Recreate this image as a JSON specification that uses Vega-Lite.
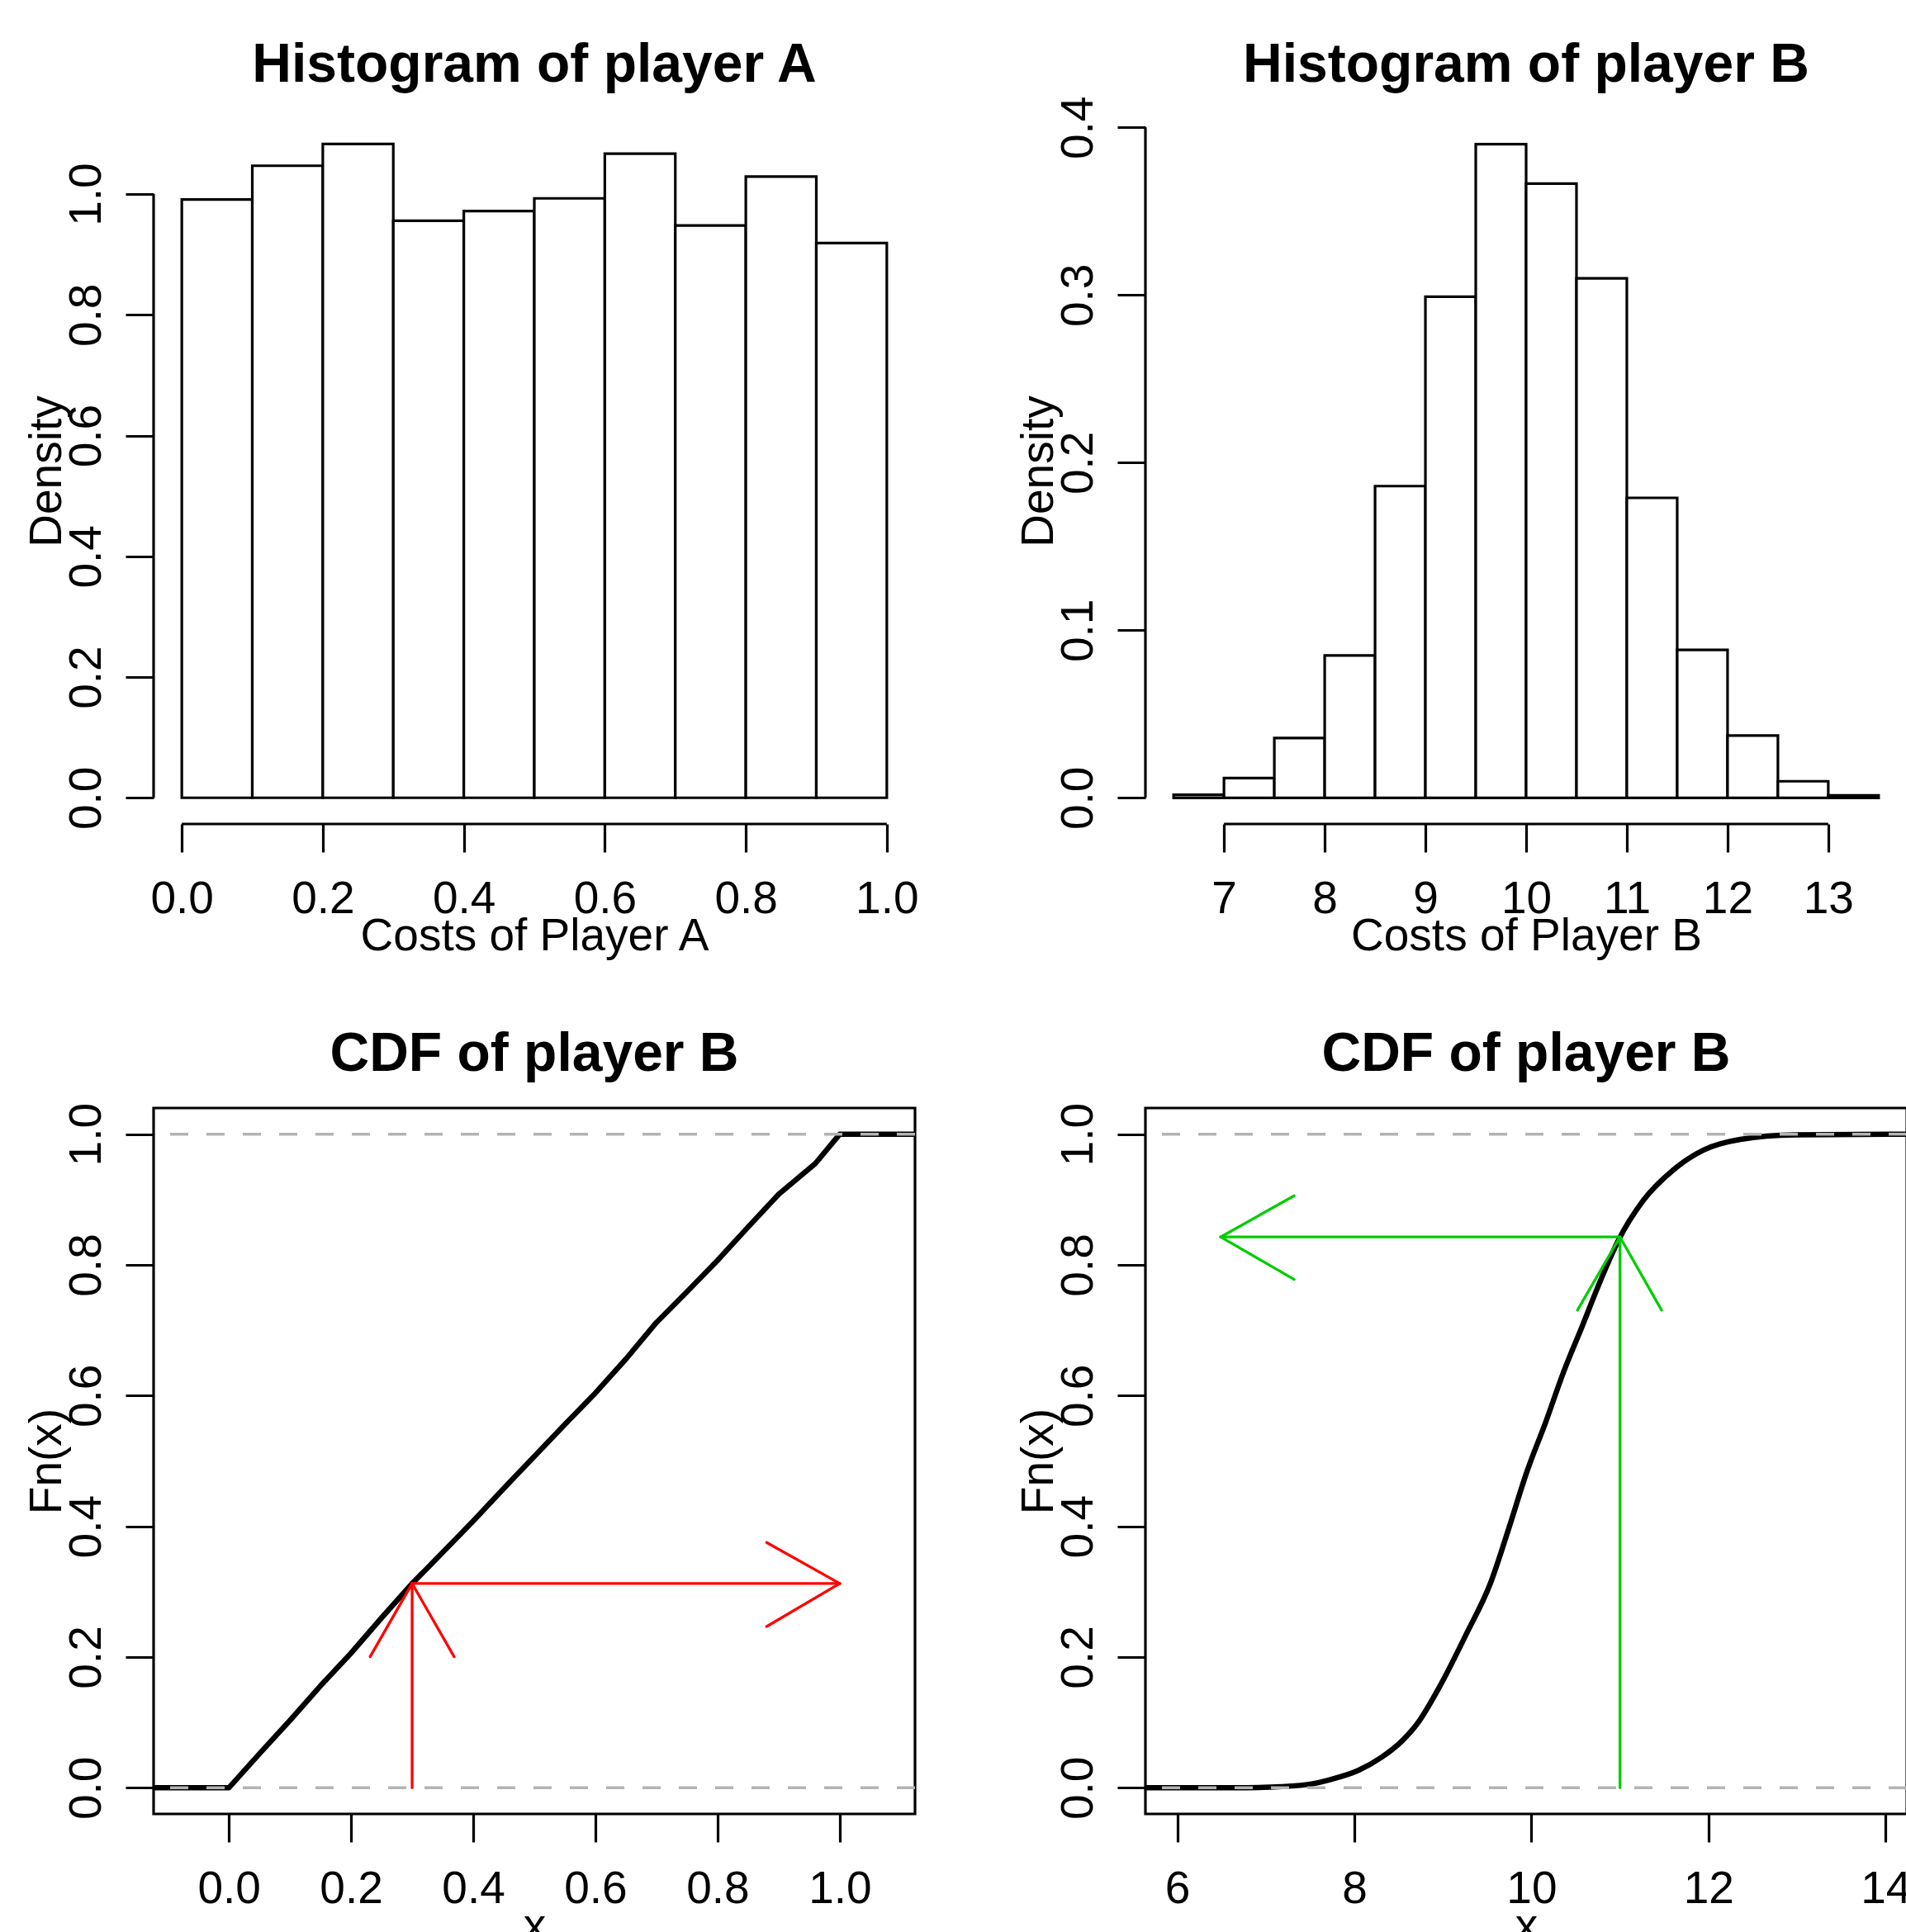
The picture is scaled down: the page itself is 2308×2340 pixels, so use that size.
{
  "$schema": "https://vega.github.io/schema/vega-lite/v6.json",
  "background": "white",
  "padding": {"left": 27, "top": 46, "right": 0, "bottom": 0},
  "config": {
    "font": "Liberation Sans",
    "view": {"stroke": null},
    "title": {"fontSize": 66, "fontWeight": "bold", "font": "Liberation Sans", "color": "black", "anchor": "middle", "frame": "group", "baseline": "alphabetic", "offset": 44},
    "axis": {
      "domain": false, "grid": false, "ticks": true, "tickSize": 34, "tickWidth": 3.2, "tickColor": "black",
      "labelFont": "Liberation Sans", "labelFontSize": 55, "labelColor": "black",
      "titleFont": "Liberation Sans", "titleFontSize": 55, "titleFontWeight": "normal", "titleColor": "black",
      "labelOverlap": false, "labelFlush": false
    },
    "axisX": {"labelBaseline": "alphabetic", "labelPadding": 73, "labelAngle": 0, "titleBaseline": "alphabetic", "titleAlign": "center", "titleY": 152, "titleX": 461},
    "axisY": {"labelAngle": 270, "labelAlign": "center", "labelBaseline": "alphabetic", "labelPadding": 31, "titleAngle": 270, "titleAlign": "center", "titleBaseline": "alphabetic", "titleX": -113, "titleY": 427.5}
  },
  "datasets": {
    "histA": [
      {"start": 0.0, "end": 0.1, "density": 0.991},
      {"start": 0.1, "end": 0.2, "density": 1.047},
      {"start": 0.2, "end": 0.3, "density": 1.083},
      {"start": 0.3, "end": 0.4, "density": 0.956},
      {"start": 0.4, "end": 0.5, "density": 0.972},
      {"start": 0.5, "end": 0.6, "density": 0.993},
      {"start": 0.6, "end": 0.7, "density": 1.067},
      {"start": 0.7, "end": 0.8, "density": 0.948},
      {"start": 0.8, "end": 0.9, "density": 1.029},
      {"start": 0.9, "end": 1.0, "density": 0.919}
    ],
    "histB": [
      {"start": 6.5, "end": 7.0, "density": 0.0018},
      {"start": 7.0, "end": 7.5, "density": 0.0118},
      {"start": 7.5, "end": 8.0, "density": 0.0357},
      {"start": 8.0, "end": 8.5, "density": 0.085},
      {"start": 8.5, "end": 9.0, "density": 0.186},
      {"start": 9.0, "end": 9.5, "density": 0.299},
      {"start": 9.5, "end": 10.0, "density": 0.39},
      {"start": 10.0, "end": 10.5, "density": 0.3665},
      {"start": 10.5, "end": 11.0, "density": 0.31},
      {"start": 11.0, "end": 11.5, "density": 0.179},
      {"start": 11.5, "end": 12.0, "density": 0.0883},
      {"start": 12.0, "end": 12.5, "density": 0.0372},
      {"start": 12.5, "end": 13.0, "density": 0.0099},
      {"start": 13.0, "end": 13.5, "density": 0.0015}
    ],
    "ecdfA": [
      {"x": -0.1232, "Fn": 0}, {"x": 0.0, "Fn": 0}, {"x": 0.05, "Fn": 0.052}, {"x": 0.1, "Fn": 0.103},
      {"x": 0.15, "Fn": 0.156}, {"x": 0.2, "Fn": 0.206}, {"x": 0.25, "Fn": 0.26}, {"x": 0.3, "Fn": 0.3126},
      {"x": 0.35, "Fn": 0.36}, {"x": 0.4, "Fn": 0.408}, {"x": 0.45, "Fn": 0.458}, {"x": 0.5, "Fn": 0.507},
      {"x": 0.55, "Fn": 0.556}, {"x": 0.6, "Fn": 0.604}, {"x": 0.65, "Fn": 0.656}, {"x": 0.7, "Fn": 0.712},
      {"x": 0.75, "Fn": 0.759}, {"x": 0.8, "Fn": 0.807}, {"x": 0.85, "Fn": 0.858}, {"x": 0.9, "Fn": 0.908},
      {"x": 0.96, "Fn": 0.955}, {"x": 1.0, "Fn": 1.0}, {"x": 1.1232, "Fn": 1.0}
    ],
    "ecdfB": [
      {"x": 5.64, "Fn": 0}, {"x": 6.64, "Fn": 0}, {"x": 7.05, "Fn": 0.001}, {"x": 7.47, "Fn": 0.005},
      {"x": 7.74, "Fn": 0.013}, {"x": 8.05, "Fn": 0.027}, {"x": 8.3, "Fn": 0.046}, {"x": 8.54, "Fn": 0.072},
      {"x": 8.71, "Fn": 0.098}, {"x": 8.98, "Fn": 0.159}, {"x": 9.26, "Fn": 0.234}, {"x": 9.54, "Fn": 0.314},
      {"x": 9.74, "Fn": 0.395}, {"x": 9.95, "Fn": 0.484}, {"x": 10.16, "Fn": 0.559}, {"x": 10.36, "Fn": 0.635},
      {"x": 10.57, "Fn": 0.705}, {"x": 10.78, "Fn": 0.776}, {"x": 10.98, "Fn": 0.837}, {"x": 11.26, "Fn": 0.898},
      {"x": 11.6, "Fn": 0.945}, {"x": 11.95, "Fn": 0.976}, {"x": 12.36, "Fn": 0.992}, {"x": 12.98, "Fn": 0.999},
      {"x": 14.24, "Fn": 1.0}
    ],
    "arrowsA": [
      {"x": 0.3, "y": 0, "x2": 0.3, "y2": 0.3126},
      {"x": 0.3, "y": 0.3126, "x2": 0.2312, "y2": 0.2005},
      {"x": 0.3, "y": 0.3126, "x2": 0.3688, "y2": 0.2005},
      {"x": 0.3, "y": 0.3126, "x2": 1.0, "y2": 0.3126},
      {"x": 1.0, "y": 0.3126, "x2": 0.8803, "y2": 0.3752},
      {"x": 1.0, "y": 0.3126, "x2": 0.8803, "y2": 0.2467}
    ],
    "arrowsB": [
      {"x": 11.0, "y": 0, "x2": 11.0, "y2": 0.8427},
      {"x": 11.0, "y": 0.8427, "x2": 10.52, "y2": 0.7307},
      {"x": 11.0, "y": 0.8427, "x2": 11.47, "y2": 0.7307},
      {"x": 11.0, "y": 0.8427, "x2": 6.49, "y2": 0.8427},
      {"x": 6.49, "y": 0.8427, "x2": 7.32, "y2": 0.9058},
      {"x": 6.49, "y": 0.8427, "x2": 7.32, "y2": 0.7778}
    ]
  },
  "columns": 2,
  "spacing": {"row": 344, "column": 279},
  "bounds": "flush",
  "concat": [
    {
      "width": 922, "height": 855,
      "title": {"text": "Histogram of player A", "dy": 14},
      "layer": [
        {
          "data": {"name": "histA"},
          "mark": {"type": "rect", "fill": "white", "stroke": "black", "strokeWidth": 3.2},
          "encoding": {
            "x": {"field": "start", "type": "quantitative", "scale": {"domain": [-0.04, 1.04], "nice": false, "zero": false}, "axis": {"values": [0, 0.2, 0.4, 0.6, 0.8, 1.0], "format": ".1f", "title": "Costs of Player A"}},
            "x2": {"field": "end"},
            "y": {"field": "density", "type": "quantitative", "scale": {"domain": [-0.0434, 1.126], "nice": false, "zero": false}, "axis": {"values": [0, 0.2, 0.4, 0.6, 0.8, 1.0], "format": ".1f", "title": "Density"}},
            "y2": {"datum": 0}
          }
        },
        {
          "data": {"values": [{}]},
          "mark": {"type": "rule", "color": "black", "strokeWidth": 3.2, "clip": false},
          "encoding": {"x": {"datum": 0, "type": "quantitative"}, "x2": {"datum": 1}, "y": {"datum": -0.0434, "type": "quantitative"}}
        },
        {
          "data": {"values": [{}]},
          "mark": {"type": "rule", "color": "black", "strokeWidth": 3.2, "clip": false},
          "encoding": {"x": {"datum": -0.04, "type": "quantitative"}, "y": {"datum": 0, "type": "quantitative"}, "y2": {"datum": 1}}
        }
      ]
    },
    {
      "width": 922, "height": 855,
      "title": {"text": "Histogram of player B", "dy": 41},
      "layer": [
        {
          "data": {"name": "histB"},
          "mark": {"type": "rect", "fill": "white", "stroke": "black", "strokeWidth": 3.2},
          "encoding": {
            "x": {"field": "start", "type": "quantitative", "scale": {"domain": [6.22, 13.78], "nice": false, "zero": false}, "axis": {"values": [7, 8, 9, 10, 11, 12, 13], "format": "d", "title": "Costs of Player B"}},
            "x2": {"field": "end"},
            "y": {"field": "density", "type": "quantitative", "scale": {"domain": [-0.0156, 0.4056], "nice": false, "zero": false}, "axis": {"values": [0, 0.1, 0.2, 0.3, 0.4], "format": ".1f", "title": "Density"}},
            "y2": {"datum": 0}
          }
        },
        {
          "data": {"values": [{}]},
          "mark": {"type": "rule", "color": "black", "strokeWidth": 3.2, "clip": false},
          "encoding": {"x": {"datum": 7, "type": "quantitative"}, "x2": {"datum": 13}, "y": {"datum": -0.0156, "type": "quantitative"}}
        },
        {
          "data": {"values": [{}]},
          "mark": {"type": "rule", "color": "black", "strokeWidth": 3.2, "clip": false},
          "encoding": {"x": {"datum": 6.22, "type": "quantitative"}, "y": {"datum": 0, "type": "quantitative"}, "y2": {"datum": 0.4}}
        }
      ]
    },
    {
      "width": 922, "height": 855,
      "title": {"text": "CDF of player B", "dy": 20},
      "view": {"stroke": "black", "strokeWidth": 3.2},
      "layer": [
        {
          "data": {"name": "ecdfA"},
          "mark": {"type": "line", "color": "black", "strokeWidth": 6.5, "strokeCap": "round", "strokeJoin": "round", "clip": true},
          "encoding": {
            "x": {"field": "x", "type": "quantitative", "scale": {"domain": [-0.1232, 1.1232], "nice": false, "zero": false}, "axis": {"values": [0, 0.2, 0.4, 0.6, 0.8, 1.0], "format": ".1f", "title": "x"}},
            "y": {"field": "Fn", "type": "quantitative", "scale": {"domain": [-0.04, 1.04], "nice": false, "zero": false}, "axis": {"values": [0, 0.2, 0.4, 0.6, 0.8, 1.0], "format": ".1f", "title": "Fn(x)"}}
          }
        },
        {
          "data": {"values": [{"level": 0}, {"level": 1}]},
          "mark": {"type": "rule", "color": "#b3b3b3", "strokeWidth": 3.5, "strokeDash": [22, 22]},
          "encoding": {"y": {"field": "level", "type": "quantitative"}}
        },
        {
          "data": {"name": "arrowsA"},
          "mark": {"type": "rule", "color": "#ff0000", "strokeWidth": 3.3, "strokeCap": "round"},
          "encoding": {
            "x": {"field": "x", "type": "quantitative"}, "x2": {"field": "x2"},
            "y": {"field": "y", "type": "quantitative"}, "y2": {"field": "y2"}
          }
        }
      ]
    },
    {
      "width": 922, "height": 855,
      "title": {"text": "CDF of player B", "dy": 20},
      "view": {"stroke": "black", "strokeWidth": 3.2},
      "layer": [
        {
          "data": {"name": "ecdfB"},
          "mark": {"type": "line", "color": "black", "strokeWidth": 6.5, "strokeCap": "round", "strokeJoin": "round", "interpolate": "monotone", "clip": true},
          "encoding": {
            "x": {"field": "x", "type": "quantitative", "scale": {"domain": [5.64, 14.24], "nice": false, "zero": false}, "axis": {"values": [6, 8, 10, 12, 14], "format": "d", "title": "x"}},
            "y": {"field": "Fn", "type": "quantitative", "scale": {"domain": [-0.04, 1.04], "nice": false, "zero": false}, "axis": {"values": [0, 0.2, 0.4, 0.6, 0.8, 1.0], "format": ".1f", "title": "Fn(x)"}}
          }
        },
        {
          "data": {"values": [{"level": 0}, {"level": 1}]},
          "mark": {"type": "rule", "color": "#b3b3b3", "strokeWidth": 3.5, "strokeDash": [22, 22]},
          "encoding": {"y": {"field": "level", "type": "quantitative"}}
        },
        {
          "data": {"name": "arrowsB"},
          "mark": {"type": "rule", "color": "#00cd00", "strokeWidth": 3.3, "strokeCap": "round"},
          "encoding": {
            "x": {"field": "x", "type": "quantitative"}, "x2": {"field": "x2"},
            "y": {"field": "y", "type": "quantitative"}, "y2": {"field": "y2"}
          }
        }
      ]
    }
  ]
}
